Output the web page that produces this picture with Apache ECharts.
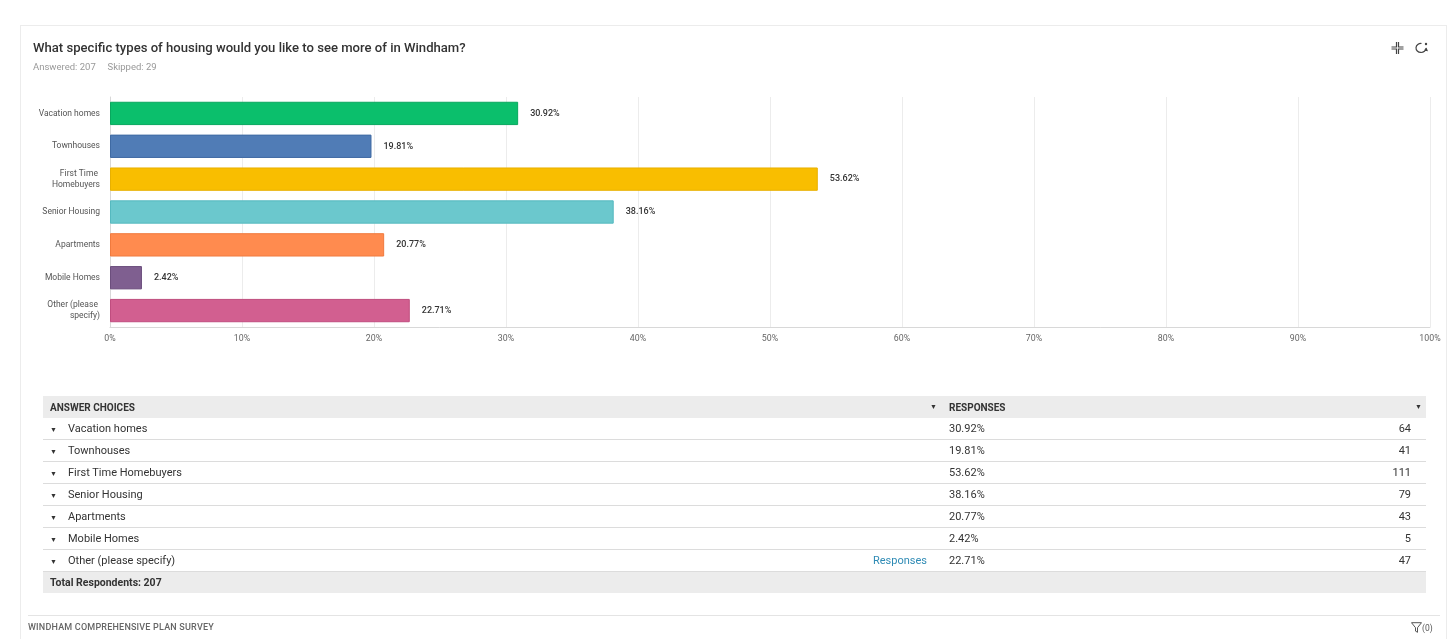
<!DOCTYPE html>
<html>
<head>
<meta charset="utf-8">
<script src="https://cdn.jsdelivr.net/npm/echarts@6/dist/echarts.min.js"></script>
<style>
  html,body{margin:0;padding:0;background:#fff;font-family:Roboto,"Noto Sans",sans-serif;}
  #page{position:relative;width:1456px;height:639px;overflow:hidden;}
  #card{position:absolute;left:20px;top:25px;width:1427px;height:640px;border:1px solid #ececec;box-sizing:border-box;}
  #chart{position:absolute;left:0;top:0;width:1456px;height:639px;}
  #tbl{position:absolute;left:43px;top:396px;width:1383px;border-collapse:collapse;font-size:11px;color:#333;}
  #tbl td{padding:0;height:21px;vertical-align:middle;white-space:nowrap;}
  #tbl tr.row td{border-bottom:1px solid #dcdcdc;}
  #tbl tr.head td{background:#ececec;font-weight:bold;font-size:10px;height:22px;color:#333;}
  #tbl tr.total td{background:#ececec;font-weight:bold;font-size:10.5px;height:21px;}
  .arr{display:inline-block;width:25px;text-align:left;padding-left:7px;font-size:7px;color:#333;box-sizing:border-box;}
  .link{color:#2f8bb5;}
  #footline{position:absolute;left:28px;top:615px;width:1412px;border-top:1px solid #e4e4e4;}
  #foot{position:absolute;left:28px;top:622px;font-size:9px;color:#666;font-weight:500;letter-spacing:0.2px;}
  #filt{position:absolute;left:1411px;top:622px;font-size:8.5px;color:#555;}
  #icons{position:absolute;left:1390px;top:40px;}
</style>
</head>
<body>
<div id="page">
  <div id="card"></div>
  <div id="chart"></div>
  <div id="icons">
    <svg width="40" height="14" viewBox="0 0 40 14">
      <g stroke="#444" stroke-width="1.2" fill="none">
        <path d="M6.5 1v5h-5 M1.5 8h5v5 M8.5 1v5h5 M13.5 8h-5v5"/>
        <path d="M31.5 2.5a5 4.5 0 1 0 4.5 4.5 l1 2.5 -2.5 -0.6"/>
      </g>
      <circle cx="36" cy="3" r="1.2" fill="#444"/>
    </svg>
  </div>
  <table id="tbl"></table>
  <div id="footline"></div>
  <div id="foot">WINDHAM COMPREHENSIVE PLAN SURVEY</div>
  <div id="filt"><svg width="11" height="11" viewBox="0 0 11 11" style="vertical-align:-2px"><path d="M0.5 0.7h10l-4 5v4.6l-2-1.2v-3.4z" fill="none" stroke="#444" stroke-width="0.9"/></svg>(0)</div>
</div>
<script>
const titleText = "What specific types of housing would you like to see more of in Windham?";
const answered = 207;
const skipped = 29;
const categories = ["Vacation homes","Townhouses","First Time Homebuyers","Senior Housing","Apartments","Mobile Homes","Other (please specify)"];
const percents = [30.92, 19.81, 53.62, 38.16, 20.77, 2.42, 22.71];
const counts = [64, 41, 111, 79, 43, 5, 47];
const totalRespondents = 207;
const colors = ["#0bbf6c","#507cb6","#f9be00","#6bc8cd","#ff8b4f","#7f5f90","#d25f90"];
const borders = ["#08a85e","#3f6aa3","#e8b000","#55b9bf","#f07a3e","#6c4e7d","#c04d7f"];
const xTicks = [0,10,20,30,40,50,60,70,80,90,100];

const chart = echarts.init(document.getElementById('chart'), null, {renderer:'canvas'});
chart.setOption({
  animation:false,
  title:{
    text:titleText,
    subtext:"Answered: " + answered + "     Skipped: " + skipped,
    left:28, top:37, itemGap:8,
    textStyle:{fontSize:13.1, fontWeight:500, color:'#333', fontFamily:'Roboto'},
    subtextStyle:{fontSize:9.5, color:'#999', fontFamily:'Roboto'}
  },
  grid:{left:110, right:26, top:97, height:230, containLabel:false},
  xAxis:{
    type:'value', min:0, max:100, interval:10,
    axisLine:{show:true, lineStyle:{color:'#d8d8d8'}},
    axisTick:{show:false},
    splitLine:{show:true, lineStyle:{color:'#ececec'}},
    axisLabel:{formatter: v => v + '%', fontSize:8.8, color:'#666', margin:7, fontFamily:'Roboto'}
  },
  yAxis:{
    type:'category', data:categories, inverse:true,
    axisLine:{show:true, lineStyle:{color:'#d8d8d8'}},
    axisTick:{show:false},
    axisLabel:{fontSize:8.5, color:'#555', margin:10, width:64, overflow:'break', align:'right', lineHeight:11, fontFamily:'Roboto'}
  },
  series:[{
    type:'bar',
    data: percents.map((v,i)=>({value:v, itemStyle:{color:colors[i], borderColor:borders[i], borderWidth:1}})),
    barWidth:'71%',
    label:{show:true, position:'right', distance:12, formatter: p => p.value.toFixed(2) + '%',
      fontSize:9, color:'#333', fontWeight:500, fontFamily:'Roboto'}
  }]
});

// table
const tbl = document.getElementById('tbl');
let html = '<tr class="head"><td style="padding-left:7px;width:880px;">ANSWER CHOICES</td>' +
  '<td style="width:18px;text-align:left;font-size:7px;">▼</td>' +
  '<td style="padding-left:1px;">RESPONSES</td><td style="text-align:right;padding-right:4px;font-size:7px;">▼</td></tr>';
categories.forEach((c,i)=>{
  html += '<tr class="row"><td><span class="arr">▼</span>' + c + '</td>' +
    '<td></td>' +
    '<td style="padding-left:1px;">' + percents[i].toFixed(2) + '%</td>' +
    '<td style="text-align:right;padding-right:15px;">' + counts[i] + '</td></tr>';
});
html += '<tr class="total"><td colspan="4" style="padding-left:7px;">Total Respondents: ' + totalRespondents + '</td></tr>';
tbl.innerHTML = html;
// "Responses" link on the open-ended row
const rows = tbl.querySelectorAll('tr.row');
const first = rows[rows.length-1].children[0];
first.style.position='relative';
const sp = document.createElement('span');
sp.className='link';
sp.textContent='Responses';
sp.style.position='absolute';
sp.style.right='3px';
sp.style.top='4px';
first.appendChild(sp);
</script>
</body>
</html>
